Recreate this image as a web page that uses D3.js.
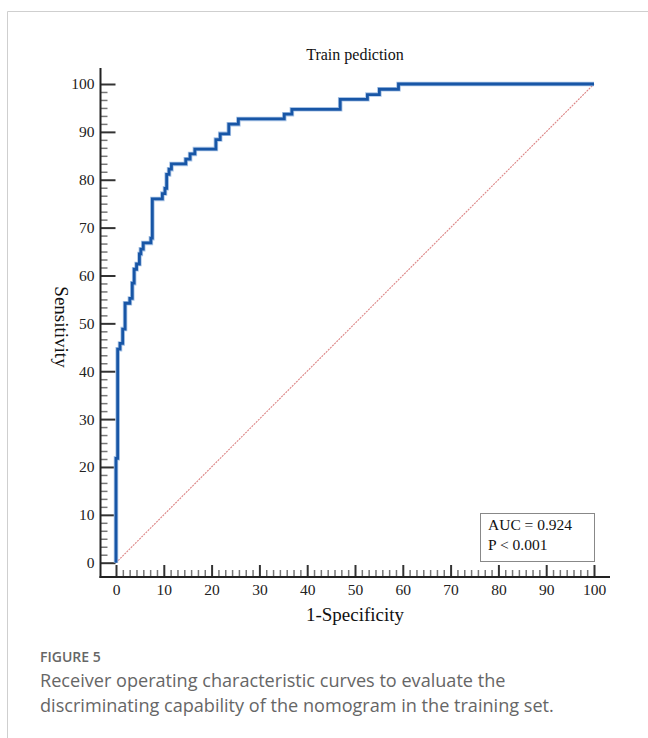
<!DOCTYPE html>
<html>
<head>
<meta charset="utf-8">
<script src="https://cdn.jsdelivr.net/npm/d3@7"></script>
<style>
  html, body { margin: 0; padding: 0; background: #fff; }
  svg { display: block; }
</style>
</head>
<body>
<svg id="chart" width="648" height="738"></svg>
<script>
// ROC curve corner points (1-Specificity %, Sensitivity %)
const fpr  = [0, 0, 0.35, 0.84, 1.4, 1.9, 2.9, 3.4, 3.8, 4.3, 4.9, 5.2, 5.7, 7.3, 7.6, 9.7, 10.25, 10.6, 11.1, 11.6, 14.6, 15.5, 16.5, 20.9, 21.8, 23.6, 25.6, 35.2, 36.8, 46.9, 52.6, 55.1, 59.1, 100];
const sens = [0, 21.8, 44.6, 45.8, 48.8, 54.2, 55.2, 58.4, 61.3, 62.4, 64.5, 65.5, 66.8, 67.8, 76.0, 77.1, 78.2, 81.1, 82.2, 83.3, 84.3, 85.4, 86.4, 88.4, 89.6, 91.6, 92.7, 93.7, 94.7, 96.8, 97.8, 98.9, 100, 100];
const majorTicks = [0, 10, 20, 30, 40, 50, 60, 70, 80, 90, 100];
const statLines = ["AUC = 0.924", "P < 0.001"];
const chartTitle = "Train pediction";
const xTitle = "1-Specificity";
const yTitle = "Sensitivity";
const figLabel = "FIGURE 5";
const captionLines = [
  "Receiver operating characteristic curves to evaluate the",
  "discriminating capability of the nomogram in the training set."
];

const svg = d3.select("#chart");
const serif = "'Liberation Serif', 'Times New Roman', serif";

// figure frame (top and left rules)
svg.append("path").attr("d", "M7.5,738 V11.5 H648")
  .attr("fill", "none").attr("stroke", "#cfcfcf").attr("stroke-width", 1);

const x = d3.scaleLinear().domain([0, 100]).range([116, 594]);
const y = d3.scaleLinear().domain([0, 100]).range([562.7, 84]);
const axisX = 100.5, axisY = 577;

// minor tick positions
const xMinor = [], yMinor = [];
for (let i = 0; i < 10; i++) {
  for (let k = 1; k < 7; k++) xMinor.push(i * 10 + k * 10 / 7);
  for (let k = 1; k < 6; k++) yMinor.push(i * 10 + k * 10 / 6);
}

// y axis
const gy = svg.append("g").attr("transform", `translate(${axisX},0)`);
gy.call(d3.axisLeft(y).tickValues(yMinor).tickFormat("").tickSizeInner(-7).tickSizeOuter(0))
  .call(g => g.select(".domain").remove())
  .call(g => g.selectAll("line").attr("stroke", "#777").attr("stroke-width", 1.5));
const gyMaj = svg.append("g").attr("transform", `translate(${axisX},0)`);
gyMaj.call(d3.axisLeft(y).tickValues(majorTicks).tickSizeInner(-15).tickSizeOuter(0).tickPadding(6))
  .call(g => g.select(".domain").remove())
  .call(g => g.selectAll("line").attr("stroke", "#333").attr("stroke-width", 2))
  .call(g => g.selectAll("text").attr("font-family", serif).attr("font-size", 15.5).attr("fill", "#222"));

// x axis
const gx = svg.append("g").attr("transform", `translate(0,${axisY})`);
gx.call(d3.axisBottom(x).tickValues(xMinor).tickFormat("").tickSizeInner(-7).tickSizeOuter(0))
  .call(g => g.select(".domain").remove())
  .call(g => g.selectAll("line").attr("stroke", "#777").attr("stroke-width", 1.5));
const gxMaj = svg.append("g").attr("transform", `translate(0,${axisY})`);
gxMaj.call(d3.axisBottom(x).tickValues(majorTicks).tickSizeInner(-12).tickSizeOuter(0).tickPadding(7))
  .call(g => g.select(".domain").remove())
  .call(g => g.selectAll("line").attr("stroke", "#333").attr("stroke-width", 2))
  .call(g => g.selectAll("text").attr("font-family", serif).attr("font-size", 15.5).attr("fill", "#222"));

// axis lines
svg.append("line").attr("x1", axisX).attr("x2", axisX).attr("y1", 68).attr("y2", axisY + 1)
  .attr("stroke", "#222").attr("stroke-width", 2);
svg.append("line").attr("x1", axisX - 1).attr("x2", 610).attr("y1", axisY).attr("y2", axisY)
  .attr("stroke", "#222").attr("stroke-width", 2);

// reference diagonal
svg.append("line")
  .attr("x1", x(0)).attr("y1", y(0)).attr("x2", x(100)).attr("y2", y(100))
  .attr("stroke", "#dc8585").attr("stroke-width", 1.1).attr("stroke-dasharray", "2,1");

// ROC curve
const pts = fpr.map((f, i) => [f, sens[i]]);
const line = d3.line().x(d => x(d[0])).y(d => y(d[1])).curve(d3.curveStepAfter);
svg.append("path").datum(pts).attr("d", line)
  .attr("fill", "none").attr("stroke", "#a9c4e6").attr("stroke-width", 4.5).attr("stroke-linejoin", "miter");
svg.append("path").datum(pts).attr("d", line)
  .attr("fill", "none").attr("stroke", "#1856a6").attr("stroke-width", 2.8).attr("stroke-linejoin", "miter");

// titles
svg.append("text").attr("x", 355).attr("y", 60).attr("text-anchor", "middle")
  .attr("font-family", serif).attr("font-size", 16).attr("fill", "#111").text(chartTitle);
svg.append("text").attr("x", 355).attr("y", 621).attr("text-anchor", "middle")
  .attr("font-family", serif).attr("font-size", 19).attr("fill", "#111").text(xTitle);
svg.append("text").attr("transform", "translate(55,327) rotate(90)").attr("text-anchor", "middle")
  .attr("font-family", serif).attr("font-size", 19).attr("fill", "#111").text(yTitle);

// statistics box
svg.append("rect").attr("x", 480.5).attr("y", 513.5).attr("width", 114).attr("height", 48)
  .attr("fill", "#fff").attr("stroke", "#888").attr("stroke-width", 1);
svg.selectAll(".stat").data(statLines).join("text")
  .attr("x", 488).attr("y", (d, i) => 530 + i * 20)
  .attr("font-family", serif).attr("font-size", 15.5).attr("fill", "#111").text(d => d);

// caption
const sans = "'Open Sans', Lato, sans-serif";
svg.append("text").attr("x", 40).attr("y", 662)
  .attr("font-family", sans).attr("font-size", 14).attr("font-weight", 600).attr("fill", "#666").text(figLabel);
svg.selectAll(".cap").data(captionLines).join("text")
  .attr("x", 40).attr("y", (d, i) => 687 + i * 25)
  .attr("font-family", sans).attr("font-size", 18.1).attr("fill", "#666").text(d => d);
</script>
</body>
</html>
